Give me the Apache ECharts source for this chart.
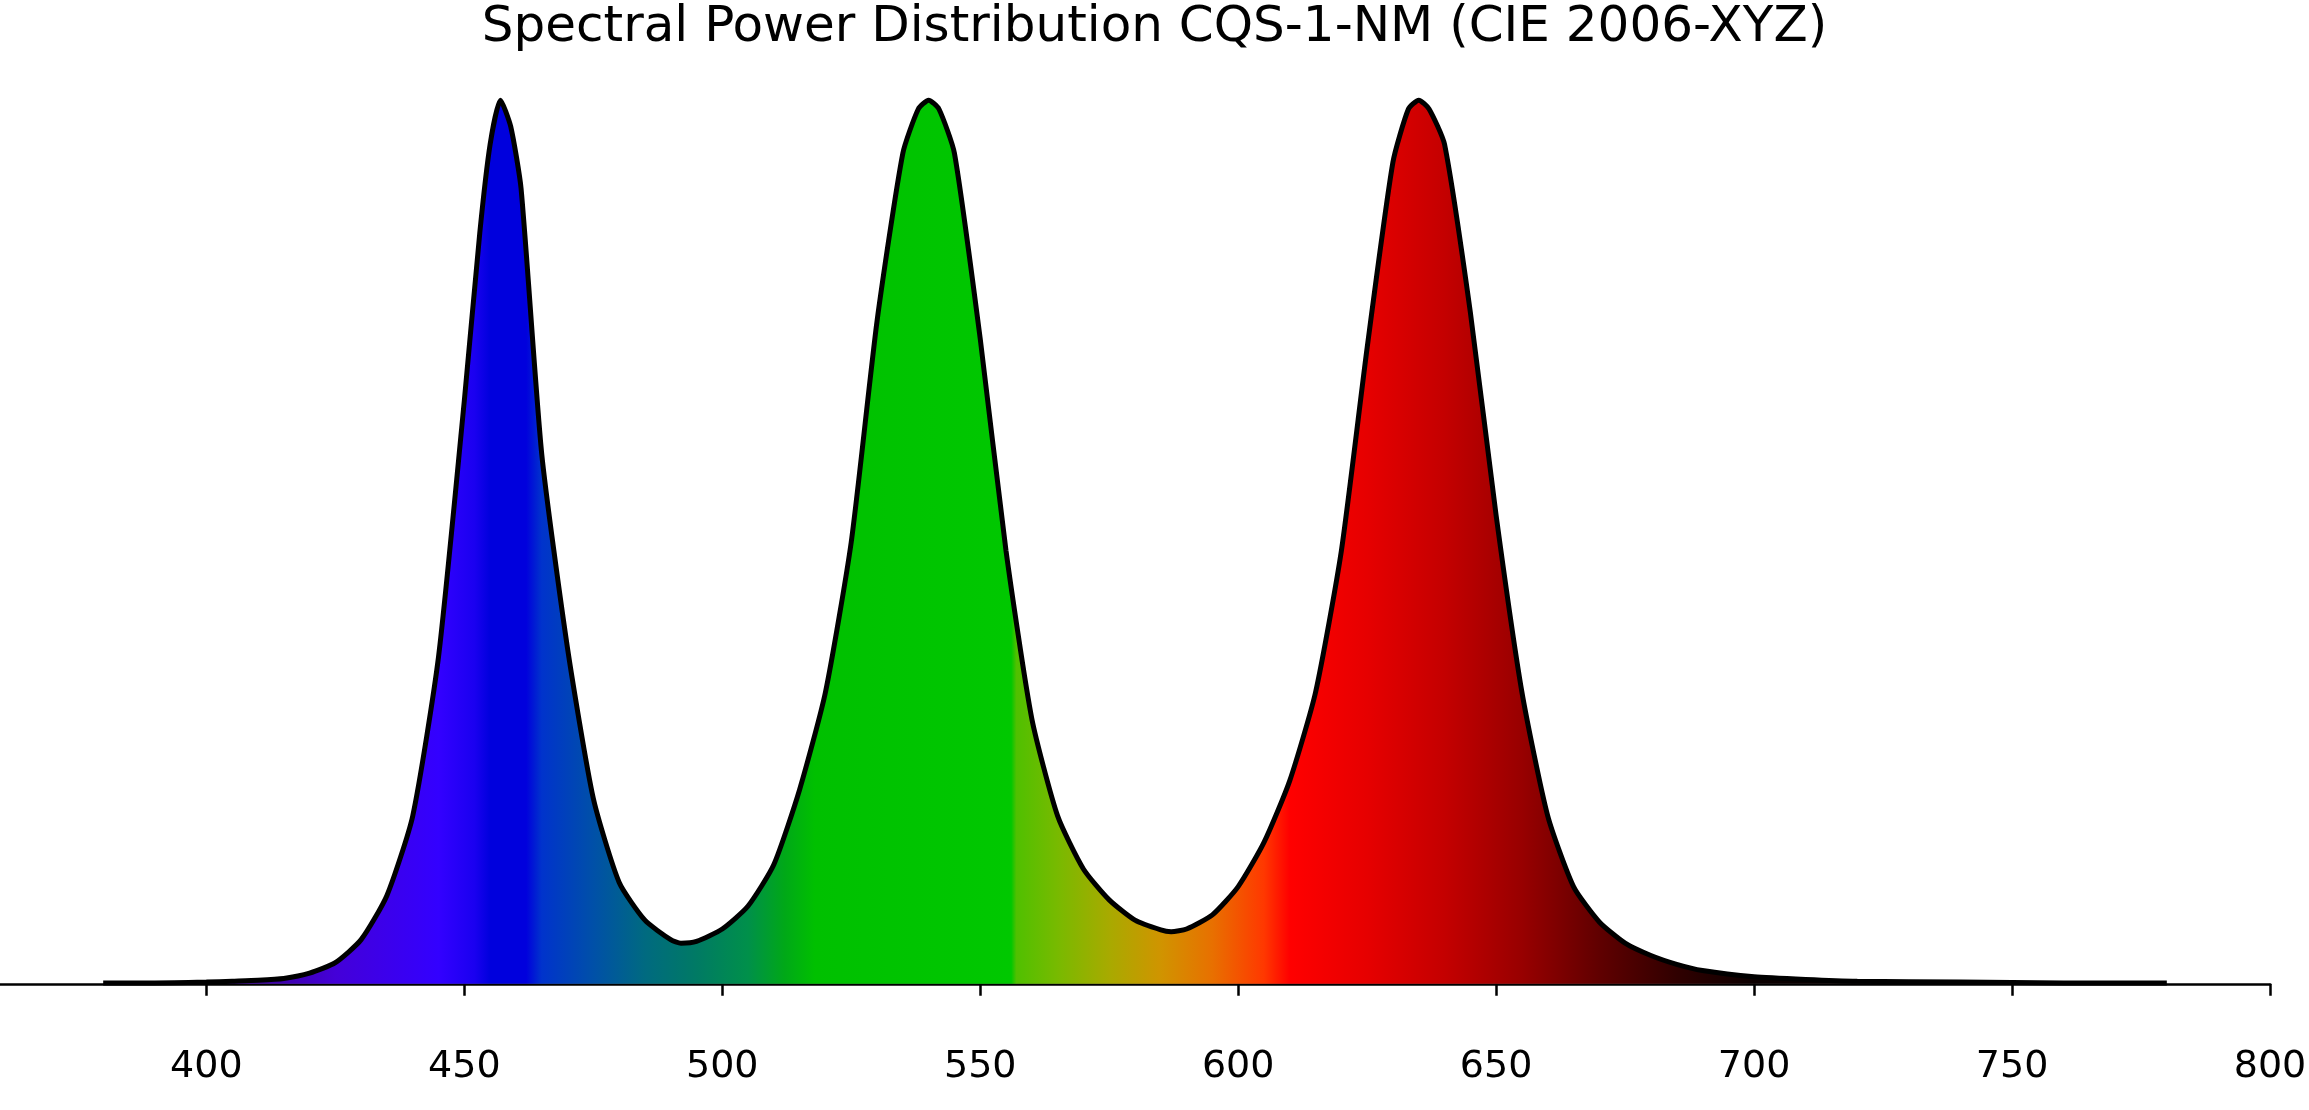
<!DOCTYPE html>
<html>
<head>
    <meta charset="utf-8">
    <title>Spectral Power Distribution</title>
    <script src="https://cdn.jsdelivr.net/npm/echarts@6/dist/echarts.min.js"></script>
    <style>
        html, body { margin: 0; padding: 0; background: #fff; }
        #main { width: 2309px; height: 1110px; }
    </style>
</head>
<body>
<div id="main"></div>
<script>
    // wavelengths (nm) and relative power
    var wavelengths = [380, 390, 400, 405, 410, 415, 420, 425, 430, 435, 440, 445, 450, 453, 455, 457, 459, 461, 465, 470, 475, 480, 485, 490, 492, 495, 500, 505, 510, 515, 520, 525, 530, 535, 538, 540, 542, 545, 550, 555, 560, 565, 570, 575, 580, 585, 587, 590, 595, 600, 605, 610, 615, 620, 625, 630, 633, 635, 637, 640, 645, 650, 655, 660, 665, 670, 675, 680, 685, 690, 700, 710, 720, 740, 760, 780];
    var power = [0.001, 0.001, 0.002, 0.003, 0.004, 0.006, 0.012, 0.024, 0.05, 0.1, 0.19, 0.37, 0.66, 0.85, 0.95, 1.0, 0.97, 0.9, 0.6, 0.38, 0.21, 0.115, 0.072, 0.05, 0.046, 0.048, 0.062, 0.088, 0.135, 0.22, 0.33, 0.5, 0.75, 0.94, 0.99, 1.0, 0.99, 0.94, 0.73, 0.49, 0.3, 0.19, 0.13, 0.095, 0.072, 0.061, 0.059, 0.062, 0.078, 0.11, 0.16, 0.23, 0.33, 0.49, 0.72, 0.93, 0.99, 1.0, 0.99, 0.95, 0.76, 0.53, 0.33, 0.19, 0.11, 0.07, 0.046, 0.032, 0.022, 0.015, 0.008, 0.005, 0.003, 0.002, 0.001, 0.001];
    var xTicks = [400, 450, 500, 550, 600, 650, 700, 750, 800];

    // spectral colour stops under the curve
    var stopNm = [380, 410, 425, 445, 452, 455, 462, 465, 475, 485, 495, 505, 512, 518, 556, 557, 565, 575, 585, 595, 605, 610, 625, 640, 655, 670, 685, 700, 780];
    var stopColor = ['#2a0050', '#3c009a', '#4400d8', '#3300ff', '#1a00f0', '#0000dd', '#0000dd', '#0033cc', '#0050a8', '#006a80', '#007a64', '#00904a', '#00a818', '#00c000', '#00c800', '#50c000', '#78ba00', '#a8aa00', '#d09400', '#e87000', '#ff3800', '#ff0000', '#e60000', '#c40000', '#980000', '#600000', '#300000', '#0c0000', '#000000'];

    var lo = wavelengths[0], hi = wavelengths[wavelengths.length - 1];
    var stops = stopNm.map(function (w, i) {
        return {offset: (w - lo) / (hi - lo), color: stopColor[i]};
    });

    var myChart = echarts.init(document.getElementById('main'));
    var option = {
        animation: false,
        title: {
            text: 'Spectral Power Distribution CQS-1-NM (CIE 2006-XYZ)',
            left: 'center',
            top: -2,
            textStyle: {fontFamily: 'DejaVu Sans', fontSize: 50, fontWeight: 'normal', color: '#000'}
        },
        grid: {left: 0, right: 39, top: 56, bottom: 82, outerBoundsMode: 'none', containLabel: false},
        xAxis: {
            type: 'value',
            min: 360,
            max: 800,
            name: '{i|λ}/nm',
            nameLocation: 'middle',
            nameGap: 82,
            nameTextStyle: {
                fontFamily: 'DejaVu Sans', fontSize: 38, color: '#000',
                rich: {i: {fontFamily: 'DejaVu Sans', fontStyle: 'italic', fontSize: 38, color: '#000'}}
            },
            axisLine: {onZero: true, lineStyle: {color: '#000', width: 2.5}},
            axisTick: {length: 12, lineStyle: {color: '#000', width: 2.5}, customValues: xTicks},
            splitLine: {show: false},
            axisLabel: {
                margin: 20,
                fontFamily: 'DejaVu Sans', fontSize: 38, color: '#000',
                customValues: xTicks
            }
        },
        yAxis: {
            type: 'value',
            min: -0.05,
            max: 1.05,
            show: false,
            splitLine: {show: false}
        },
        series: [{
            type: 'line',
            data: wavelengths.map(function (w, i) { return [w, power[i]]; }),
            smooth: 0.2,
            showSymbol: false,
            lineStyle: {color: '#000', width: 5},
            areaStyle: {
                origin: 0,
                opacity: 1,
                color: new echarts.graphic.LinearGradient(0, 0, 1, 0, stops)
            }
        }]
    };
    myChart.setOption(option);
</script>
</body>
</html>
